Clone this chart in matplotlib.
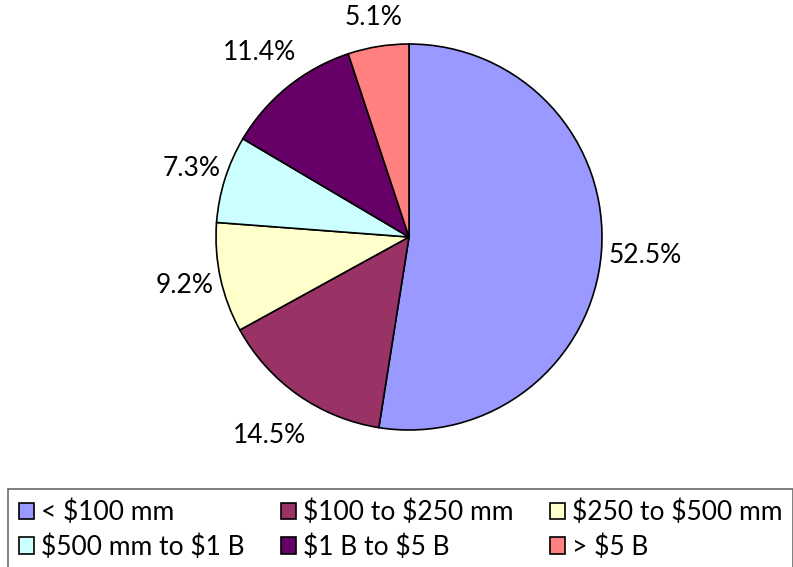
import matplotlib.pyplot as plt

plt.rcParams['font.family'] = ['Lato', 'DejaVu Sans']

categorias = ["< \\$100 mm", "\\$100 to \\$250 mm", "\\$250 to \\$500 mm",
              "\\$500 mm to \\$1 B", "\\$1 B to \\$5 B", "> \\$5 B"]
porcentajes = [52.5, 14.5, 9.2, 7.3, 11.4, 5.1]
colores = ["#9999FF", "#993366", "#FFFFCC", "#CCFFFF", "#660066", "#FF8080"]

# distancia radial de cada etiqueta (en radios)
dist_etiquetas = [1.23, 1.26, 1.19, 1.18, 1.23, 1.15]

W, H = 793, 567
fig = plt.figure(figsize=(W / 100, H / 100), dpi=100)

# centro de la tarta en (409, 237) px, radio 193 px
cx, cy, r = 409, 237, 193
ax = fig.add_axes([(cx - r) / W, (H - cy - r) / H, 2 * r / W, 2 * r / H])

wedges, textos, pcts = ax.pie(
    porcentajes, colors=colores, startangle=90, counterclock=False,
    autopct='%1.1f%%', pctdistance=1.0,
    wedgeprops=dict(edgecolor='black', linewidth=1.2),
    textprops=dict(fontsize=19, color='black'),
)
for t, d in zip(pcts, dist_etiquetas):
    x, y = t.get_position()
    t.set_position((x * d, y * d))

ax.set_xlim(-1, 1)
ax.set_ylim(-1, 1)
ax.set_aspect('equal')

# la leyenda se rellena por columnas: reordenar para filas de tres
orden = [0, 3, 1, 4, 2, 5]
leg = fig.legend(
    [wedges[i] for i in orden], [categorias[i] for i in orden],
    ncol=3, loc='upper left',
    bbox_to_anchor=(8 / W, (H - 489) / H, 785 / W, 0.0), mode='expand',
    fontsize=19, frameon=True, fancybox=False, borderpad=0.4,
    handlelength=0.58, handleheight=0.58, handletextpad=0.27,
    labelspacing=0.35, borderaxespad=0.0,
)
leg.get_frame().set_edgecolor('#444444')
leg.get_frame().set_linewidth(1.2)
for h in leg.legend_handles:
    h.set_edgecolor('black')
    h.set_linewidth(1.2)

fig.savefig('out.png', dpi=100)
